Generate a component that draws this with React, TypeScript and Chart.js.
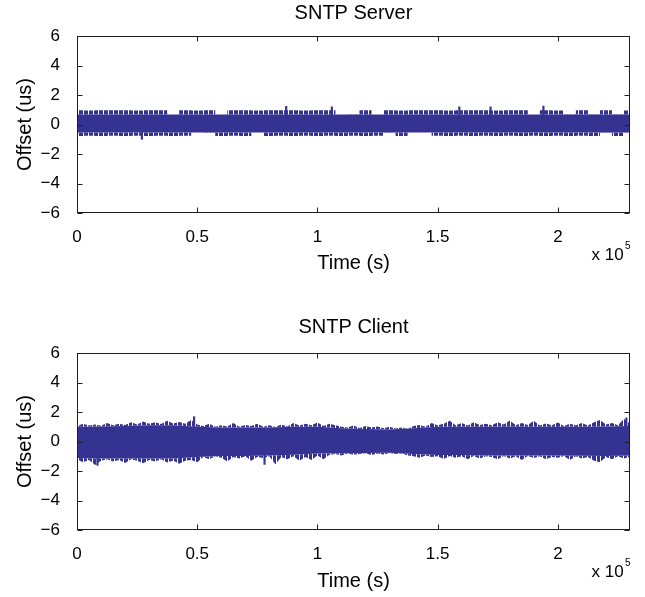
import React, { useEffect, useRef } from 'react';
import { Chart, registerables } from 'chart.js';

Chart.register(...registerables);

const FONT = '"Liberation Sans", Arial, Helvetica, sans-serif';
const BAND = '#343391';
const AXIS = '#1e1e1e';

// ---------- axis ticks ----------
const xTickValues = [0, 50000, 100000, 150000, 200000];
const xTickLabels = ['0', '0.5', '1', '1.5', '2'];
const yTickValues = [-6, -4, -2, 0, 2, 4, 6];
const yTickLabels = ['\u22126', '\u22124', '\u22122', '0', '2', '4', '6'];

// ---------- SNTP Server (sampled every 5000 s) ----------
const serverTime = [
  0, 5000, 10000, 15000, 20000, 25000, 30000, 35000, 40000, 45000,
  50000, 55000, 60000, 65000, 70000, 75000, 80000, 85000, 90000, 95000,
  100000, 105000, 110000, 115000, 120000, 125000, 130000, 135000, 140000, 145000,
  150000, 155000, 160000, 165000, 170000, 175000, 180000, 185000, 190000, 195000,
  200000, 205000, 210000, 215000, 220000, 225000, 230000,
];
const serverCoreUpper = [
  0.68, 0.68, 0.68, 0.68, 0.68, 0.68, 0.68, 0.68, 0.68, 0.68,
  0.68, 0.68, 0.68, 0.68, 0.68, 0.68, 0.68, 0.68, 0.68, 0.68,
  0.68, 0.68, 0.68, 0.68, 0.68, 0.68, 0.68, 0.68, 0.68, 0.68,
  0.68, 0.68, 0.68, 0.68, 0.68, 0.68, 0.68, 0.68, 0.68, 0.68,
  0.68, 0.68, 0.68, 0.68, 0.68, 0.68, 0.68,
];
const serverCoreLower = [
  -0.55, -0.55, -0.55, -0.55, -0.55, -0.55, -0.55, -0.55, -0.55, -0.55,
  -0.55, -0.55, -0.55, -0.55, -0.55, -0.55, -0.55, -0.55, -0.55, -0.55,
  -0.55, -0.55, -0.55, -0.55, -0.55, -0.55, -0.55, -0.55, -0.55, -0.55,
  -0.55, -0.55, -0.55, -0.55, -0.55, -0.55, -0.55, -0.55, -0.55, -0.55,
  -0.55, -0.55, -0.55, -0.55, -0.55, -0.55, -0.55,
];
const serverFringeUpper = [
  0.97, 0.95, 0.97, 0.96, 0.97, 0.95, 0.97, 0.96, 0.68, 0.97,
  0.95, 0.97, 0.68, 0.96, 0.97, 0.95, 0.97, 0.96, 0.97, 0.95,
  0.97, 0.96, 0.68, 0.7, 0.96, 0.68, 0.97, 0.95, 0.97, 0.96,
  0.97, 0.95, 0.97, 0.96, 0.97, 0.95, 0.97, 0.96, 0.68, 0.97,
  0.95, 0.7, 0.96, 0.7, 0.97, 0.7, 0.95,
];
const serverFringeLower = [
  -0.78, -0.76, -0.78, -0.77, -0.78, -0.76, -0.78, -0.77, -0.78, -0.76,
  -0.55, -0.56, -0.78, -0.77, -0.78, -0.55, -0.78, -0.76, -0.78, -0.77,
  -0.78, -0.76, -0.78, -0.77, -0.78, -0.76, -0.56, -0.78, -0.55, -0.55,
  -0.77, -0.78, -0.76, -0.78, -0.77, -0.78, -0.76, -0.78, -0.77, -0.78,
  -0.76, -0.78, -0.77, -0.78, -0.56, -0.78, -0.56,
];
const serverSpikeTime = [27000, 87000, 106000, 159000, 172000, 194000];
const serverSpikeLow = [-1.0, 0.6, 0.6, 0.6, 0.6, 0.6];
const serverSpikeHigh = [-0.5, 1.23, 1.2, 1.2, 1.2, 1.25];

// ---------- SNTP Client: outer envelope (every 2500 s) ----------
const clientTime = [
  0, 2500, 5000, 7500, 10000, 12500, 15000, 17500, 20000, 22500,
  25000, 27500, 30000, 32500, 35000, 37500, 40000, 42500, 45000, 47500,
  50000, 52500, 55000, 57500, 60000, 62500, 65000, 67500, 70000, 72500,
  75000, 77500, 80000, 82500, 85000, 87500, 90000, 92500, 95000, 97500,
  100000, 102500, 105000, 107500, 110000, 112500, 115000, 117500, 120000, 122500,
  125000, 127500, 130000, 132500, 135000, 137500, 140000, 142500, 145000, 147500,
  150000, 152500, 155000, 157500, 160000, 162500, 165000, 167500, 170000, 172500,
  175000, 177500, 180000, 182500, 185000, 187500, 190000, 192500, 195000, 197500,
  200000, 202500, 205000, 207500, 210000, 212500, 215000, 217500, 220000, 222500,
  225000, 227500, 230000,
];
const clientUpper = [
  1.05, 1.2, 1.08, 1.15, 1.06, 1.25, 1.1, 1.2, 1.12, 1.3,
  1.15, 1.35, 1.2, 1.3, 1.18, 1.4, 1.22, 1.32, 1.2, 1.45,
  1.15, 1.05, 1.2, 1.0, 1.1, 1.02, 1.25, 1.0, 1.12, 1.05,
  1.2, 1.0, 1.1, 0.98, 1.15, 1.02, 1.25, 1.08, 1.2, 1.1,
  1.28, 1.05, 1.2, 1.1, 1.0, 0.95, 1.08, 0.92, 1.05, 0.95,
  1.02, 0.9, 1.0, 0.88, 0.95, 0.86, 1.05, 1.12, 1.0, 1.25,
  1.1, 1.2, 1.4, 1.1, 1.25, 1.08, 1.3, 1.12, 1.2, 1.1,
  1.3, 1.15, 1.42, 1.1, 1.25, 1.12, 1.4, 1.08, 1.22, 1.1,
  1.28, 1.05, 1.2, 1.1, 1.25, 1.08, 1.3, 1.45, 1.15, 1.25,
  1.1, 1.55, 1.2,
];
const clientLower = [
  -1.2, -1.4, -1.25, -1.6, -1.3, -1.2, -1.35, -1.25, -1.45, -1.2,
  -1.3, -1.48, -1.25, -1.35, -1.2, -1.42, -1.28, -1.5, -1.3, -1.25,
  -1.4, -1.05, -1.2, -1.0, -1.1, -1.35, -1.05, -1.15, -1.0, -1.3,
  -1.05, -1.12, -1.0, -1.55, -1.05, -1.2, -1.0, -1.3, -1.05, -1.25,
  -0.95, -1.2, -0.9, -0.85, -0.95, -0.82, -0.9, -0.85, -0.8, -0.92,
  -0.82, -0.88, -0.78, -0.85, -0.8, -0.95, -1.0, -1.1, -0.95, -1.05,
  -1.0, -1.18, -0.98, -1.1, -1.0, -1.2, -0.98, -1.15, -1.0, -1.05,
  -1.2, -0.98, -1.15, -1.0, -1.25, -0.98, -1.12, -1.0, -1.2, -1.05,
  -1.1, -0.98, -1.25, -1.0, -1.15, -1.05, -1.3, -1.4, -1.05, -1.2,
  -1.0, -1.15, -1.05,
];
// ---------- SNTP Client: solid inner band (every 10000 s) ----------
const clientCoreTime = [
  0, 10000, 20000, 30000, 40000, 50000, 60000, 70000, 80000, 90000,
  100000, 110000, 120000, 130000, 140000, 150000, 160000, 170000, 180000, 190000,
  200000, 210000, 220000, 230000,
];
const clientCoreUpper = [
  1.0, 1.02, 1.05, 1.1, 1.1, 1.0, 0.95, 0.95, 0.95, 1.0,
  1.0, 0.9, 0.85, 0.82, 0.9, 1.0, 1.0, 1.0, 1.02, 1.0,
  1.0, 1.0, 1.02, 1.05,
];
const clientCoreLower = [
  -1.12, -1.15, -1.15, -1.15, -1.15, -1.05, -0.98, -0.98, -0.95, -0.9,
  -0.82, -0.8, -0.78, -0.76, -0.85, -0.92, -0.92, -0.95, -0.95, -0.95,
  -0.95, -0.97, -0.98, -0.95,
];
const clientSpikeTime = [8500, 48700, 78000, 228500];
const clientSpikeLow = [-1.62, 1.0, -1.55, 1.0];
const clientSpikeHigh = [-1.0, 1.68, -0.9, 1.6];

const pts = (t: number[], v: number[]) => t.map((x, i) => ({ x, y: v[i] }));
const bars = (t: number[], lo: number[], hi: number[]) =>
  t.map((x, i) => ({ x, y: [lo[i], hi[i]] }));

const axesPlugin = {
  id: 'matlabAxes',
  afterDraw(chart: any) {
    const { ctx, chartArea: a, scales } = chart;
    const L = Math.round(a.left) + 0.5;
    const R = Math.round(a.right) - 0.5;
    const T = Math.round(a.top) + 0.5;
    const B = Math.round(a.bottom) - 0.5;
    ctx.save();
    ctx.strokeStyle = AXIS;
    ctx.lineWidth = 1;
    ctx.strokeRect(L, T, R - L, B - T);
    ctx.beginPath();
    scales.x.ticks.forEach((t: any) => {
      const px = Math.round(scales.x.getPixelForValue(t.value)) + 0.5;
      ctx.moveTo(px, B); ctx.lineTo(px, B - 5);
      ctx.moveTo(px, T); ctx.lineTo(px, T + 5);
    });
    scales.y.ticks.forEach((t: any) => {
      const py = Math.round(scales.y.getPixelForValue(t.value)) + 0.5;
      ctx.moveTo(L, py); ctx.lineTo(L + 5, py);
      ctx.moveTo(R, py); ctx.lineTo(R - 5, py);
    });
    ctx.stroke();
    ctx.fillStyle = '#000';
    ctx.textAlign = 'left';
    ctx.textBaseline = 'alphabetic';
    ctx.font = '17px ' + FONT;
    ctx.fillText('x 10', a.right - 38.4, a.bottom + 47);
    ctx.font = '10px ' + FONT;
    ctx.fillText('5', a.right - 5, a.bottom + 36);
    ctx.restore();
  },
};

function buildConfig(title: string, datasets: any[], o: { tt: number; tb: number; xp: number }) {
  return {
    type: 'line',
    data: { datasets },
    options: {
      animation: false,
      responsive: false,
      devicePixelRatio: 1,
      layout: { padding: { left: 0, right: 15, top: 0, bottom: 0 } },
      elements: { point: { radius: 0 } },
      plugins: {
        legend: { display: false },
        tooltip: { enabled: false },
        title: {
          display: true,
          text: title,
          fullSize: false,
          color: '#000',
          font: { family: FONT, size: 20, weight: 'normal', lineHeight: 1 },
          padding: { top: o.tt, bottom: o.tb },
        },
      },
      scales: {
        x: {
          type: 'linear',
          min: 0,
          max: 230000,
          offset: false,
          grid: { display: false, offset: false },
          border: { display: false },
          afterBuildTicks: (s: any) => { s.ticks = xTickValues.map((v) => ({ value: v })); },
          ticks: {
            autoSkip: false,
            maxRotation: 0,
            padding: 7.5,
            color: '#000',
            font: { family: FONT, size: 17, lineHeight: 1 },
            callback: (v: any) => xTickLabels[xTickValues.indexOf(Number(v))] ?? '',
          },
          title: {
            display: true,
            text: 'Time (s)',
            color: '#000',
            font: { family: FONT, size: 20, lineHeight: 1 },
            padding: { top: 0, bottom: o.xp },
          },
          afterFit: (s: any) => { s.height = 67; },
        },
        y: {
          type: 'linear',
          min: -6,
          max: 6,
          grid: { display: false },
          border: { display: false },
          afterBuildTicks: (s: any) => { s.ticks = yTickValues.map((v) => ({ value: v })); },
          ticks: {
            padding: 9,
            color: '#000',
            font: { family: FONT, size: 17, lineHeight: 1 },
            callback: (v: any) => yTickLabels[yTickValues.indexOf(Number(v))] ?? '',
          },
          title: {
            display: true,
            text: 'Offset (us)',
            color: '#000',
            font: { family: FONT, size: 20, lineHeight: 1 },
            padding: { top: 15, bottom: 0 },
          },
          afterFit: (s: any) => { s.width = 77; },
        },
      },
    },
    plugins: [axesPlugin],
  } as any;
}

function makePattern(on: number[], width: number) {
  const pc = document.createElement('canvas');
  pc.width = width;
  pc.height = 1;
  const pctx = pc.getContext('2d')!;
  pctx.fillStyle = BAND;
  on.forEach((i) => pctx.fillRect(i, 0, 1, 1));
  return pctx.createPattern(pc, 'repeat');
}

export default function App() {
  const ref1 = useRef<HTMLCanvasElement>(null);
  const ref2 = useRef<HTMLCanvasElement>(null);

  useEffect(() => {
    const serverPattern = makePattern([0, 1, 2, 4, 5, 6, 7, 9], 10);
    const clientPattern = makePattern([0, 1, 3, 4, 5, 7, 8], 9);

    const lineBase = { borderColor: 'transparent', borderWidth: 1, pointRadius: 0, tension: 0 };

    const serverSets = [
      { ...lineBase, data: pts(serverTime, serverCoreUpper), fill: '+1', backgroundColor: BAND, stepped: 'middle' },
      { ...lineBase, data: pts(serverTime, serverCoreLower), fill: false, stepped: 'middle' },
      { ...lineBase, data: pts(serverTime, serverFringeUpper), fill: 0, backgroundColor: serverPattern, stepped: 'middle' },
      { ...lineBase, data: pts(serverTime, serverFringeLower), fill: 1, backgroundColor: serverPattern, stepped: 'middle' },
      { type: 'bar', data: bars(serverSpikeTime, serverSpikeLow, serverSpikeHigh), backgroundColor: BAND, barThickness: 1.5 },
    ];
    const clientSets = [
      { ...lineBase, data: pts(clientTime, clientUpper), fill: 2, backgroundColor: clientPattern },
      { ...lineBase, data: pts(clientTime, clientLower), fill: 3, backgroundColor: clientPattern },
      { ...lineBase, data: pts(clientCoreTime, clientCoreUpper), fill: '+1', backgroundColor: BAND },
      { ...lineBase, data: pts(clientCoreTime, clientCoreLower), fill: false },
      { type: 'bar', data: bars(clientSpikeTime, clientSpikeLow, clientSpikeHigh), backgroundColor: BAND, barThickness: 1.5 },
    ];

    const c1 = new Chart(ref1.current!, buildConfig('SNTP Server', serverSets, { tt: 3.5, tb: 12.5, xp: 7 }));
    const c2 = new Chart(ref2.current!, buildConfig('SNTP Client', clientSets, { tt: 0, tb: 16, xp: 6 }));
    return () => {
      c1.destroy();
      c2.destroy();
    };
  }, []);

  return (
    <div style={{ position: 'absolute', left: 0, top: 0, width: 645, height: 597, overflow: 'hidden', background: '#fff' }}>
      <canvas ref={ref1} width={645} height={280} style={{ position: 'absolute', left: 0, top: 0, width: 645, height: 280 }} />
      <canvas ref={ref2} width={645} height={280} style={{ position: 'absolute', left: 0, top: 317, width: 645, height: 280 }} />
    </div>
  );
}
